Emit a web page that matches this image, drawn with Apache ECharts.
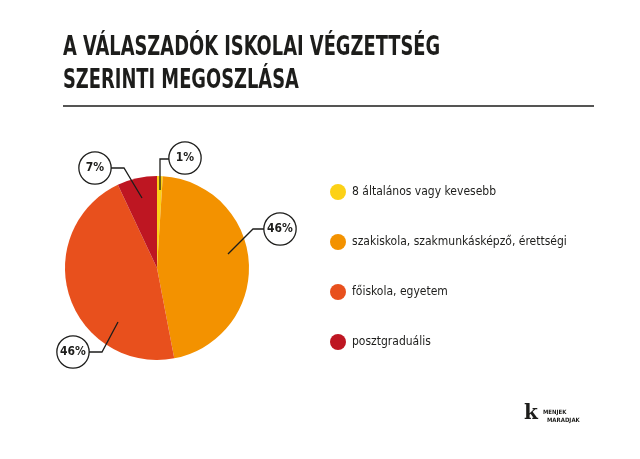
<!DOCTYPE html>
<html>
<head>
<meta charset="utf-8">
<script src="https://cdn.jsdelivr.net/npm/echarts@6/dist/echarts.min.js"></script>
<style>
  html, body { margin: 0; padding: 0; background: #fff; }
  #chart { width: 640px; height: 459px; }
</style>
</head>
<body>
<div id="chart"></div>
<script>
const categories = [
  '8 általános vagy kevesebb',
  'szakiskola, szakmunkásképző, érettségi',
  'főiskola, egyetem',
  'posztgraduális'
];
const shares = [1, 46, 46, 7];
const colors = ['#fcd116', '#f39200', '#e8501d', '#be1622'];
const titleLines = ['A VÁLASZADÓK ISKOLAI VÉGZETTSÉG', 'SZERINTI MEGOSZLÁSA'];

// where each percentage bubble sits, and its leader line (pixels)
const bubbleSpots = [
  { x: 185, y: 158, line: [[160, 190], [160, 159], [170, 159]] },
  { x: 280, y: 229, line: [[228, 254], [253, 229], [264, 229]] },
  { x: 73, y: 352, line: [[118, 322], [102, 352], [89, 352]] },
  { x: 95, y: 168, line: [[142, 198], [124, 168], [110, 168]] }
];

const FONT = '"DejaVu Sans Condensed", "Liberation Sans Narrow", sans-serif';

const chart = echarts.init(document.getElementById('chart'));

const pieData = categories.map((name, i) => ({ name: name, value: shares[i] }));

chart.setOption({
  backgroundColor: '#fff',
  animation: false,
  color: colors,
  legend: {
    orient: 'vertical',
    left: 325,
    top: 179,
    icon: 'circle',
    itemWidth: 16,
    itemHeight: 16,
    itemGap: 34,
    textStyle: {
      fontFamily: FONT,
      fontSize: 12,
      color: '#1d1d1b',
      padding: [0, 0, 0, 1]
    },
    data: categories.map((name, i) => ({ name: name, itemStyle: { color: colors[i] } }))
  },
  series: [
    {
      type: 'pie',
      center: [157, 268],
      radius: 92,
      startAngle: 90,
      clockwise: true,
      silent: true,
      label: { show: false },
      labelLine: { show: false },
      data: pieData
    },
    {
      // transparent copy on top that carries the bubbles, so leader lines cross the slices
      type: 'pie',
      z: 5,
      center: [157, 268],
      radius: 92,
      startAngle: 90,
      clockwise: true,
      silent: true,
      itemStyle: { color: 'rgba(0,0,0,0)' },
      label: {
        show: true,
        position: 'outside',
        formatter: '{c}%',
        fontFamily: FONT,
        fontWeight: 'bold',
        fontSize: 12,
        color: '#1d1d1b',
        backgroundColor: '#fff',
        borderColor: '#1d1d1b',
        borderWidth: 1.3,
        borderRadius: 16,
        width: 31,
        height: 31,
        lineHeight: 31,
        align: 'center',
        verticalAlign: 'middle'
      },
      labelLine: {
        show: true,
        lineStyle: { color: '#1d1d1b', width: 1.3 }
      },
      labelLayout: function (params) {
        const s = bubbleSpots[params.dataIndex];
        return {
          x: s.x,
          y: s.y,
          align: 'center',
          verticalAlign: 'middle',
          labelLinePoints: s.line
        };
      },
      data: pieData
    }
  ],
  graphic: [
    {
      type: 'text',
      x: 63,
      y: 34,
      scaleX: 0.735,
      style: {
        text: titleLines[0],
        font: 'bold 27px ' + FONT,
        fill: '#1d1d1b',
        textVerticalAlign: 'top'
      }
    },
    {
      type: 'text',
      x: 63,
      y: 67,
      scaleX: 0.735,
      style: {
        text: titleLines[1],
        font: 'bold 27px ' + FONT,
        fill: '#1d1d1b',
        textVerticalAlign: 'top'
      }
    },
    {
      type: 'line',
      shape: { x1: 63, y1: 106, x2: 594, y2: 106 },
      style: { stroke: '#1d1d1b', lineWidth: 1.5 }
    },
    {
      type: 'text',
      left: 524,
      top: 404,
      style: {
        text: 'k',
        font: 'bold 20px "DejaVu Serif", serif',
        fill: '#1d1d1b'
      }
    },
    {
      type: 'text',
      left: 543,
      top: 409,
      style: {
        text: 'MENJEK',
        font: 'bold 6px ' + FONT,
        fill: '#1d1d1b'
      }
    },
    {
      type: 'text',
      left: 547,
      top: 417,
      style: {
        text: 'MARADJAK',
        font: 'bold 6px ' + FONT,
        fill: '#1d1d1b'
      }
    }
  ]
});
</script>
</body>
</html>
